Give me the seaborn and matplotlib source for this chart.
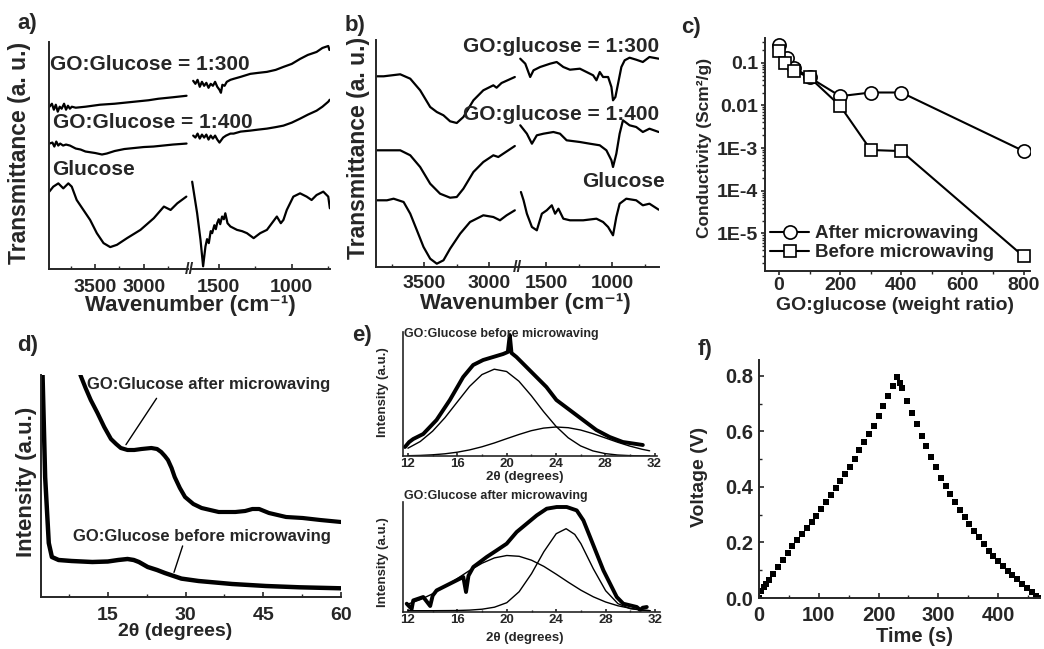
import matplotlib
matplotlib.use("Agg")
import matplotlib.pyplot as plt
import seaborn as sns
from matplotlib.ticker import MultipleLocator, FixedLocator, FixedFormatter

W, H = 1044, 649

# ---------------- data ----------------
# a) FTIR, high wavenumber segment / low wavenumber segment
a_wn_hi_300 = [3970, 3945, 3925, 3905, 3885, 3865, 3845, 3820, 3800, 3780, 3760, 3740, 3700, 3600, 3450, 3300, 3100, 2950, 2850, 2700, 2560]
a_t_hi_300 = [163, 166, 160, 165, 158, 163, 161, 166, 160, 164, 161, 163, 162, 163, 165, 166, 168, 169.5, 171, 172.5, 174]
a_wn_lo_300 = [1675, 1660, 1645, 1630, 1615, 1600, 1585, 1570, 1555, 1540, 1525, 1510, 1495, 1485, 1475, 1460, 1445, 1420, 1398, 1350, 1284, 1230, 1170, 1110, 1057, 1000, 943, 890, 830, 790, 750, 742]
a_t_lo_300 = [189, 186, 190, 183, 188, 184, 187, 182, 186, 184, 188, 183, 180, 177, 185, 184, 188, 190, 191, 193, 196, 197, 198, 200, 203, 206, 211, 215, 218, 222, 224, 220]

a_wn_hi_400 = [3970, 3940, 3920, 3900, 3880, 3860, 3830, 3800, 3760, 3700, 3650, 3600, 3500, 3430, 3380, 3300, 3200, 3100, 3000, 2900, 2800, 2700, 2560]
a_t_hi_400 = [126, 127, 123, 128, 124, 126, 124, 125, 124, 121, 120, 118, 116.5, 115, 116, 118.5, 120.5, 121.5, 122.5, 123, 124, 125, 126]
a_wn_lo_400 = [1675, 1660, 1645, 1630, 1615, 1600, 1585, 1570, 1555, 1540, 1525, 1510, 1495, 1485, 1470, 1450, 1420, 1398, 1350, 1284, 1230, 1170, 1110, 1057, 1000, 943, 890, 830, 790, 750, 740]
a_t_lo_400 = [134, 132, 136, 131, 135, 132, 135, 130, 134, 131, 134, 130, 127, 129, 132, 134, 136, 136, 138, 139, 140, 141, 142.5, 144, 147, 151, 155, 159, 163, 168, 170]

a_wn_hi_glu = [3972, 3931, 3879, 3828, 3776, 3741, 3690, 3621, 3552, 3483, 3414, 3345, 3276, 3172, 3034, 2897, 2793, 2724, 2655, 2562]
a_t_hi_glu = [77.7, 82.7, 86, 81, 86, 82.7, 69.3, 59.3, 49.3, 36, 26, 22, 24.3, 31, 39.3, 51, 62.7, 59.3, 66, 72.7]
a_wn_lo_glu = [1682, 1648, 1625, 1607, 1591, 1580, 1568, 1555, 1545, 1530, 1520, 1511, 1500, 1490, 1477, 1465, 1455, 1440, 1420, 1375, 1340, 1307, 1261, 1216, 1170, 1102, 1075, 1057, 1034, 989, 943, 898, 864, 830, 784, 750, 739]
a_t_lo_glu = [87.7, 56, 29.3, 2.7, 22.7, 30, 26, 38, 36, 44, 40, 46, 50, 45, 52.7, 50, 56, 46, 42.7, 39.3, 38, 36, 31, 36, 39.3, 52.7, 46, 49.3, 59.3, 72.7, 76, 72.7, 69.3, 74.3, 77.7, 72.7, 61]

# b) FTIR after microwaving
b_wn_hi_300 = [3862, 3811, 3684, 3607, 3531, 3454, 3403, 3352, 3301, 3250, 3199, 3122, 3046, 2969, 2944, 2906, 2804]
b_t_hi_300 = [190.7, 190.7, 192.7, 188.3, 176.7, 160, 155, 151.7, 145.7, 144, 150, 166.7, 176.7, 181.7, 179.3, 184, 190]
b_wn_lo_300 = [1695, 1657, 1620, 1595, 1545, 1470, 1420, 1370, 1320, 1245, 1195, 1145, 1120, 1095, 1070, 1032, 1007, 995, 977, 957, 932, 907, 870, 820, 770, 720, 650]
b_t_lo_300 = [208.3, 203.3, 190, 196.7, 200, 203.3, 205, 200, 197.3, 198.3, 195, 191.7, 186.7, 195, 190, 190, 180, 166.7, 170, 183.3, 200, 206.7, 209.3, 207.3, 205, 210, 208.3]

b_wn_hi_400 = [3862, 3684, 3607, 3531, 3454, 3378, 3301, 3250, 3199, 3122, 3046, 2969, 2931, 2893, 2804]
b_t_hi_400 = [116.7, 116.7, 111.7, 100, 83.3, 73.3, 69.3, 70, 78.3, 95, 105, 111.7, 110, 113.3, 121]
b_wn_lo_400 = [1695, 1645, 1607, 1570, 1520, 1445, 1395, 1345, 1245, 1170, 1095, 1045, 1007, 995, 970, 945, 920, 870, 820, 770, 720, 650]
b_t_lo_400 = [141.7, 133.3, 123.3, 131.7, 133.3, 135, 133.3, 126.7, 125, 123.3, 121.7, 116.7, 106.7, 100, 113.3, 133.3, 146.7, 141.7, 140, 135, 138.3, 135]

b_wn_hi_glu = [3862, 3786, 3735, 3658, 3607, 3556, 3505, 3454, 3403, 3352, 3301, 3224, 3148, 3046, 2969, 2918, 2867, 2804]
b_t_hi_glu = [66.7, 66.7, 68.3, 65, 53.3, 36.7, 20, 8.3, 3.3, 6.7, 18.3, 33.3, 45, 51.7, 50, 46.7, 51.7, 56.7]
b_wn_lo_glu = [1690, 1670, 1645, 1607, 1570, 1532, 1495, 1457, 1432, 1407, 1370, 1320, 1220, 1120, 1070, 1032, 995, 970, 945, 895, 820, 770, 720, 650]
b_t_lo_glu = [75, 66.7, 53.3, 40, 36.7, 53.3, 56.7, 61.7, 53.3, 58.3, 48.3, 46.7, 46.7, 48.3, 45, 40, 31.7, 50, 63.3, 68.3, 66.7, 61.7, 63.3, 57.3]

# c) conductivity vs GO:glucose ratio
c_ratio_after = [0, 25, 50, 100, 200, 300, 400, 800]
c_cond_after = [0.26, 0.128, 0.075, 0.045, 0.0164, 0.02, 0.02, 8.5e-4]
c_ratio_before = [0, 20, 50, 100, 200, 300, 400, 800]
c_cond_before = [0.185, 0.10, 0.064, 0.045, 0.0097, 9e-4, 8.5e-4, 2.9e-6]
c_tick_vals = [1e-5, 1e-4, 1e-3, 1e-2, 1e-1]
c_tick_labels = ["1E-5", "1E-4", "1E-3", "0.01", "0.1"]

# d) XRD
d_2theta_after = [9.7, 10.7, 11.7, 13.0, 14.3, 15.6, 16.6, 17.5, 18.8, 20.1, 21.5, 23.4, 24.5, 25.3, 26.0, 26.6, 27.3, 27.9, 28.9, 29.9, 31.5, 33.1, 36.4, 39.6, 41.5, 42.9, 44.2, 46.1, 49.4, 52.6, 56.0, 60.0]
d_int_after = [222, 209, 197, 184, 170, 158, 153, 149, 147, 147, 148, 149, 148, 145, 141, 137, 129, 120, 109, 100, 93, 89, 85, 85, 86, 88, 88, 84, 80, 79, 77, 75]
d_2theta_before = [2.4, 2.9, 3.6, 4.2, 5.5, 8.0, 12.0, 15.0, 17.0, 18.8, 20.0, 21.0, 22.7, 24.5, 26.0, 29.2, 32.5, 39.0, 45.5, 52.0, 60.0]
d_int_before = [222, 120, 54, 40, 37, 36, 35, 35.5, 37, 38, 37, 35, 30, 27, 24, 18.4, 16, 13, 11, 9.7, 8.7]

# e) peak fits, before (top) and after (bottom) microwaving
e_top_2theta = [11.76, 12.1, 12.43, 13.24, 14.32, 15.4, 16.48, 17.29, 18.1, 18.91, 19.72, 20.1, 20.26, 20.4, 20.8, 21.61, 22.42, 23.23, 24.04, 25.12, 26.2, 27.28, 28.36, 29.43, 30.52, 31.05]
e_top_int = [9, 14, 17, 22, 36, 56, 79, 91, 96, 99, 102, 104, 121, 103, 99, 89, 79, 69, 56, 46, 36, 26, 19, 14, 12, 11]
e_top_fit_x = [12, 13, 14, 15, 16, 17, 18, 19, 20, 21, 22, 23, 24, 25, 26, 27, 28, 29, 30, 31, 31.6]
e_top_fit1 = [7.8, 14.5, 24.8, 38.3, 54, 69.6, 81.4, 86.8, 84.5, 74.8, 60.4, 44.4, 29.8, 18.2, 10.1, 5.1, 2.4, 1.0, 0.4, 0.1, 0.1]
e_top_fit2 = [0.3, 0.6, 1.2, 2.2, 3.8, 6.1, 9.2, 13.0, 17.3, 21.5, 25.3, 27.9, 29.0, 28.3, 26, 22.4, 18.1, 13.8, 9.9, 6.7, 5.2]

e_bot_2theta = [11.9, 12.3, 12.43, 13.24, 13.8, 14.0, 14.32, 15.4, 16.48, 16.7, 16.9, 17.29, 18.37, 19.18, 19.99, 20.8, 21.61, 22.42, 23.23, 24.04, 24.85, 25.66, 26.2, 26.74, 27.28, 27.82, 28.36, 28.9, 29.43, 30.52, 30.8, 31.0, 31.33]
e_bot_int = [8.3, 3, 11.6, 15, 6, 16.3, 21.6, 28.3, 35, 20, 36.3, 45, 55, 61.6, 68.3, 80, 88.3, 96.6, 103.3, 105, 105, 101.6, 91.6, 75, 58.3, 41.6, 28.3, 15, 8.3, 5, 2, 4.3, 5]
e_bot_fit1_x = [12, 13, 14, 15, 16, 17, 18, 19, 20, 21, 22, 23, 24, 25, 26, 27, 28, 29, 30, 31, 31.6]
e_bot_fit1 = [7.9, 12.4, 18.2, 25.4, 33.5, 41.6, 48.8, 54.1, 56.5, 55.7, 51.8, 45.6, 37.8, 29.6, 21.8, 15.2, 10, 6.2, 3.7, 2, 1.3]
e_bot_fit2_x = [12, 14, 16, 17, 18, 19, 20, 21, 22, 23, 24, 24.8, 25.5, 26, 27, 28, 29, 30, 31, 31.6]
e_bot_fit2 = [1.3, 1.3, 1.5, 1.9, 2.8, 4.8, 9.3, 20.3, 38.3, 60.3, 78.3, 83.3, 77.6, 68.3, 43.3, 21.3, 8.3, 3.3, 1.8, 1.3]

# f) galvanostatic charge / discharge
f_time = [0, 4, 8, 12, 16, 24, 32, 40, 48, 56, 64, 72, 80, 88, 96, 104, 112, 120, 128, 136, 144, 152, 160, 168, 176, 184, 192, 200, 208, 216, 224, 230,
          236, 240, 248, 256, 264, 272, 280, 288, 296, 304, 312, 320, 328, 336, 344, 352, 360, 368, 376, 384, 392, 400, 408, 416, 424, 432, 440, 448, 456, 464, 470]
f_volt = [0.0, 0.025, 0.04, 0.052, 0.064, 0.088, 0.113, 0.138, 0.162, 0.186, 0.208, 0.23, 0.252, 0.275, 0.297, 0.321, 0.346, 0.372, 0.397, 0.422, 0.448, 0.473, 0.502, 0.532, 0.562, 0.591, 0.621, 0.655, 0.69, 0.726, 0.765, 0.797,
          0.775, 0.756, 0.711, 0.667, 0.625, 0.584, 0.546, 0.508, 0.47, 0.433, 0.404, 0.375, 0.346, 0.318, 0.293, 0.267, 0.242, 0.218, 0.194, 0.17, 0.15, 0.133, 0.116, 0.099, 0.083, 0.068, 0.052, 0.037, 0.022, 0.007, 0.0]

# ---------------- style ----------------
sns.set_style("ticks")
plt.rcParams["font.family"] = ["Liberation Sans", "DejaVu Sans"]
plt.rcParams["font.weight"] = "bold"
plt.rcParams["axes.labelweight"] = "bold"
plt.rcParams["axes.linewidth"] = 1.4
plt.rcParams["xtick.direction"] = "in"
plt.rcParams["ytick.direction"] = "in"
plt.rcParams["xtick.major.width"] = 1.2
plt.rcParams["ytick.major.width"] = 1.2
plt.rcParams["xtick.minor.width"] = 1.0
plt.rcParams["ytick.minor.width"] = 1.0
plt.rcParams["xtick.major.size"] = 3.5
plt.rcParams["ytick.major.size"] = 3.5
plt.rcParams["xtick.minor.size"] = 2
plt.rcParams["ytick.minor.size"] = 2

fig = plt.figure(figsize=(W / 100, H / 100), dpi=100)


def px_axes(x0, y0, x1, y1):
    ax = fig.add_axes([x0 / W, 1 - y1 / H, (x1 - x0) / W, (y1 - y0) / H])
    ax.set_facecolor("none")
    sns.despine(ax=ax)
    return ax


def trace(ax, x, y, lw=1.6):
    sns.lineplot(x=x, y=y, ax=ax, color="black", linewidth=lw, sort=False, estimator=None)


def ptext(x, y, s, size, **kw):
    fig.text(x / W, 1 - y / H, s, fontsize=size, fontweight="bold", **kw)


def ftir(x0, xs0, xs1, x1, y0, y1, hi_lim, lo_lim, ytop, curves, pad):
    ax_hi = px_axes(x0, y0, xs0, y1)
    ax_lo = px_axes(xs1, y0, x1, y1)
    for wh, th, wl, tl in curves:
        trace(ax_hi, wh, th)
        trace(ax_lo, wl, tl)
    ax_hi.set_xlim(*hi_lim)
    ax_lo.set_xlim(*lo_lim)
    ax_hi.set_xticks([3500, 3000])
    ax_lo.set_xticks([1500, 1000])
    for ax in (ax_hi, ax_lo):
        ax.set_ylim(0, ytop)
        ax.set_yticks([])
        ax.set_xlabel("")
        ax.xaxis.set_minor_locator(MultipleLocator(250))
        ax.tick_params(axis="x", labelsize=14, pad=pad)
    ax_lo.spines["left"].set_visible(False)
    ptext((xs0 + xs1) / 2, y1, "//", 12, ha="center", va="center")
    return ax_hi, ax_lo


# ---------------- a) ----------------
ftir(49, 188, 191, 330, 42, 269, (3975, 2545), (1690, 738), 228,
     [(a_wn_hi_300, a_t_hi_300, a_wn_lo_300, a_t_lo_300),
      (a_wn_hi_400, a_t_hi_400, a_wn_lo_400, a_t_lo_400),
      (a_wn_hi_glu, a_t_hi_glu, a_wn_lo_glu, a_t_lo_glu)], 7)
ptext(50, 65, "GO:Glucose = 1:300", 15, va="center")
ptext(53, 122, "GO:Glucose = 1:400", 15, va="center")
ptext(52, 170, "Glucose", 15, va="center")
ptext(20, 153, "Transmittance (a. u.)", 16.5, rotation=90, ha="center", va="center")
ptext(190, 306, "Wavenumber (cm⁻¹)", 16, ha="center", va="center")
ptext(27, 24, "a)", 16, ha="center", va="center")

# ---------------- b) ----------------
ftir(376, 516, 518, 659, 40, 267, (3870, 2795), (1712, 648), 227,
     [(b_wn_hi_300, b_t_hi_300, b_wn_lo_300, b_t_lo_300),
      (b_wn_hi_400, b_t_hi_400, b_wn_lo_400, b_t_lo_400),
      (b_wn_hi_glu, b_t_hi_glu, b_wn_lo_glu, b_t_lo_glu)], 6)
ptext(463, 47, "GO:glucose = 1:300", 15, va="center")
ptext(463, 115, "GO:glucose = 1:400", 15, va="center")
ptext(665, 182, "Glucose", 15, va="center", ha="right")
ptext(359, 148, "Transmittance (a. u.)", 16.5, rotation=90, ha="center", va="center")
ptext(525, 304, "Wavenumber (cm⁻¹)", 16, ha="center", va="center")
ptext(355, 25, "b)", 16, ha="center", va="center")

# ---------------- c) ----------------
ax_c = px_axes(765, 38, 1030, 271)
sns.lineplot(x=c_ratio_after, y=c_cond_after, ax=ax_c, color="black", linewidth=1.5,
             marker="o", markersize=9.5, markerfacecolor="white", markeredgecolor="black",
             markeredgewidth=1.2, label="After microwaving", sort=False, estimator=None)
sns.lineplot(x=c_ratio_before, y=c_cond_before, ax=ax_c, color="black", linewidth=1.5,
             marker="s", markersize=9, markerfacecolor="white", markeredgecolor="black",
             markeredgewidth=1.2, label="Before microwaving", sort=False, estimator=None)
ax_c.set_yscale("log")
ax_c.set_xlim(-46, 821)
ax_c.set_ylim(1.32e-6, 0.378)
ax_c.set_xticks([0, 200, 400, 600, 800])
ax_c.xaxis.set_minor_locator(MultipleLocator(100))
ax_c.yaxis.set_major_locator(FixedLocator(c_tick_vals))
ax_c.yaxis.set_major_formatter(FixedFormatter(c_tick_labels))
ax_c.tick_params(axis="both", which="both", direction="out")
ax_c.tick_params(axis="both", which="major", length=3)
ax_c.tick_params(axis="both", labelsize=14)
ax_c.tick_params(axis="x", pad=1.5)
ax_c.tick_params(axis="y", pad=2)
ax_c.set_xlabel("")
ax_c.set_ylabel("")
ax_c.legend(loc="lower left", bbox_to_anchor=(-0.01, 0.01), frameon=False,
            handlelength=2.1, handletextpad=0.3, labelspacing=0.1, borderaxespad=0,
            prop={"weight": "bold", "size": 13.5})
ptext(895, 306, "GO:glucose (weight ratio)", 14, ha="center", va="center")
ptext(705, 148, "Conductivity (Scm²/g)", 12.5, rotation=90, ha="center", va="center")
ptext(691, 27, "c)", 16, ha="center", va="center")

# ---------------- d) ----------------
ax_d = px_axes(41, 375, 341, 597)
trace(ax_d, d_2theta_after, d_int_after, lw=3)
trace(ax_d, d_2theta_before, d_int_before, lw=3.2)
ax_d.set_xlim(2.1, 60)
ax_d.set_ylim(0, 222)
ax_d.set_yticks([])
ax_d.set_xticks([15, 30, 45, 60])
ax_d.xaxis.set_minor_locator(MultipleLocator(7.5))
ax_d.tick_params(axis="x", labelsize=14, pad=7)
ax_d.annotate("", xy=(18.2, 150), xytext=(24.7, 201), arrowprops=dict(arrowstyle="-", color="black", lw=1))
ax_d.annotate("", xy=(27.6, 22), xytext=(29.6, 53.7), arrowprops=dict(arrowstyle="-", color="black", lw=1))
ptext(87, 385, "GO:Glucose after microwaving", 12, va="center")
ptext(73, 537, "GO:Glucose before microwaving", 12, va="center")
ptext(27, 482, "Intensity (a.u.)", 16, rotation=90, ha="center", va="center")
ptext(175, 631, "2θ (degrees)", 14, ha="center", va="center")
ptext(28, 345, "d)", 16, ha="center", va="center")

# ---------------- e) ----------------
ax_et = px_axes(403, 332, 657, 456)
trace(ax_et, e_top_2theta, e_top_int, lw=2.8)
trace(ax_et, e_top_fit_x, e_top_fit1, lw=1)
trace(ax_et, e_top_fit_x, e_top_fit2, lw=1)
ax_et.set_xlim(11.6, 32.2)
ax_et.set_ylim(0, 124)

ax_eb = px_axes(403, 502, 660, 612)
trace(ax_eb, e_bot_2theta, e_bot_int, lw=2.8)
trace(ax_eb, e_bot_fit1_x, e_bot_fit1, lw=1)
trace(ax_eb, e_bot_fit2_x, e_bot_fit2, lw=1)
ax_eb.set_xlim(11.6, 32.4)
ax_eb.set_ylim(0, 110)

for ax in (ax_et, ax_eb):
    ax.set_yticks([])
    ax.set_xticks([12, 16, 20, 24, 28, 32])
    ax.xaxis.set_minor_locator(MultipleLocator(2))
    ax.tick_params(axis="x", labelsize=9.5, pad=1.5, length=2.5)
    ax.tick_params(axis="x", which="minor", length=1.5)
    ax.spines["left"].set_linewidth(1.2)
    ax.spines["bottom"].set_linewidth(1.2)

ptext(404, 334, "GO:Glucose before microwaving", 9, va="center")
ptext(404, 496, "GO:Glucose after microwaving", 9, va="center")
ptext(383, 392, "Intensity (a.u.)", 9.5, rotation=90, ha="center", va="center")
ptext(383, 562, "Intensity (a.u.)", 9.5, rotation=90, ha="center", va="center")
ptext(525, 477, "2θ (degrees)", 9.5, ha="center", va="center")
ptext(525, 638, "2θ (degrees)", 9.5, ha="center", va="center")
ptext(362, 335, "e)", 16, ha="center", va="center")

# ---------------- f) ----------------
ax_f = px_axes(759, 360, 1040, 598)
sns.scatterplot(x=f_time, y=f_volt, ax=ax_f, color="black", marker="s", s=16, linewidth=0)
ax_f.set_xlim(0, 470)
ax_f.set_ylim(0, 0.857)
ax_f.set_xticks([0, 100, 200, 300, 400])
ax_f.set_yticks([0.0, 0.2, 0.4, 0.6, 0.8])
ax_f.yaxis.set_major_formatter(FixedFormatter(["0.0", "0.2", "0.4", "0.6", "0.8"]))
ax_f.xaxis.set_minor_locator(MultipleLocator(50))
ax_f.yaxis.set_minor_locator(MultipleLocator(0.1))
ax_f.tick_params(axis="both", labelsize=14.5)
ax_f.tick_params(axis="x", pad=6)
ax_f.tick_params(axis="y", pad=4)
ax_f.set_xlabel("")
ax_f.set_ylabel("")
ptext(915, 637, "Time (s)", 14.5, ha="center", va="center")
ptext(699, 477, "Voltage (V)", 14, rotation=90, ha="center", va="center")
ptext(705, 350, "f)", 16, ha="center", va="center")

fig.savefig("out.png", dpi=100)
